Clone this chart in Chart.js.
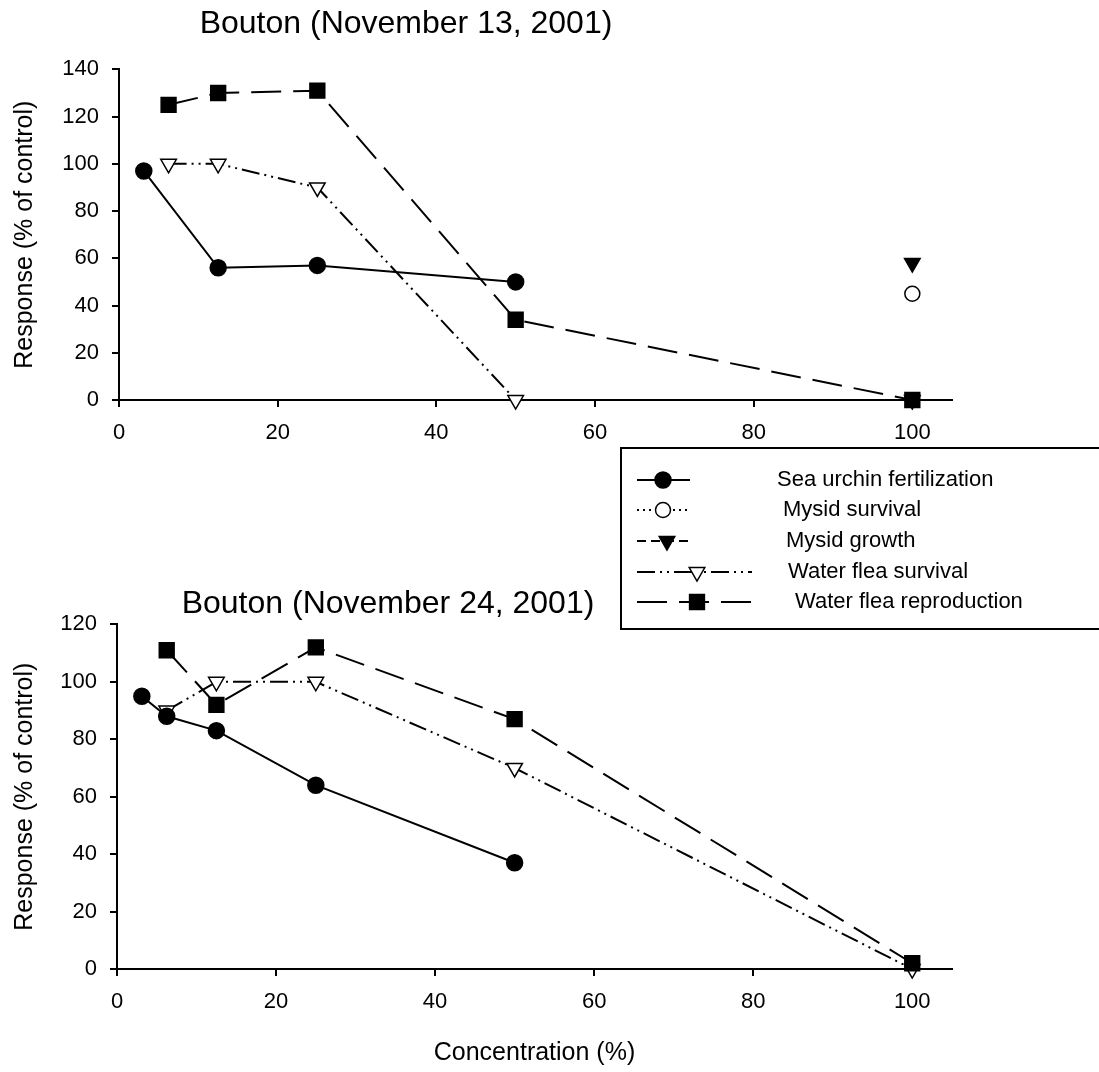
<!DOCTYPE html>
<html>
<head>
<meta charset="utf-8">
<script src="https://cdn.jsdelivr.net/npm/chart.js@4/dist/chart.umd.min.js"></script>
<style>
html,body{margin:0;padding:0;background:#fff;}
#wrap{position:relative;width:1099px;height:1072px;overflow:hidden;background:#fff;}
canvas{position:absolute;left:0;top:0;}
</style>
</head>
<body>
<div id="wrap">
<canvas id="c1" width="1099" height="1072"></canvas>
<canvas id="c2" width="1099" height="1072"></canvas>
</div>
<script>
// ---------------- DATA ----------------
const concentrations = [3.125, 6.25, 12.5, 25, 50, 100];
const seriesNames = ['Sea urchin fertilization', 'Mysid survival', 'Mysid growth', 'Water flea survival', 'Water flea reproduction'];
const titleNov13 = 'Bouton (November 13, 2001)';
const titleNov24 = 'Bouton (November 24, 2001)';
const yAxisTitle = 'Response (% of control)';
const xAxisTitle = 'Concentration (%)';

// November 13, 2001
const nov13SeaUrchin       = [97, null, 56, 57, 50, null];
const nov13MysidSurvival   = [null, null, null, null, null, 45];
const nov13MysidGrowth     = [null, null, null, null, null, 58];
const nov13FleaSurvival    = [null, 100, 100, 90, 0, 0];
const nov13FleaReproduction= [null, 125, 130, 131, 34, 0];

// November 24, 2001
const nov24SeaUrchin       = [95, 88, 83, 64, 37, null];
const nov24FleaSurvival    = [null, 90, 100, 100, 70, 0];
const nov24FleaReproduction= [null, 111, 92, 112, 87, 2];

// tick labels
const xTickValues = [0, 20, 40, 60, 80, 100];
const yTicksNov13 = [0, 20, 40, 60, 80, 100, 120, 140];
const yTicksNov24 = [0, 20, 40, 60, 80, 100, 120];

// ---------------- STYLES ----------------
const FONT = "'Liberation Sans', Arial, Helvetica, sans-serif";
const styles = [
  {pointStyle: 'circle',   fill: '#000', dash: [],                 radius: 8,    rotation: 0,   order: 1},
  {pointStyle: 'circle',   fill: '#fff', dash: [2, 4],             radius: 7.5,  rotation: 0,   order: 2},
  {pointStyle: 'triangle', fill: '#000', dash: [9, 5],             radius: 9,    rotation: 180, order: 3},
  {pointStyle: 'triangle', fill: '#fff', dash: [18, 5, 2, 5, 2, 5],radius: 9,    rotation: 180, order: 4},
  {pointStyle: 'rect',     fill: '#000', dash: [30, 12],           radius: 10.5, rotation: 0,   order: 0}
];

function toPoints(values) {
  return concentrations.map((x, i) => ({x: x, y: values[i]})).filter(p => p.y !== null);
}
function makeDataset(i, values) {
  const s = styles[i];
  return {
    label: seriesNames[i],
    data: toPoints(values),
    showLine: true,
    borderColor: '#000',
    borderWidth: 2,
    borderDash: s.dash,
    pointStyle: s.pointStyle,
    pointRotation: s.rotation,
    pointRadius: s.radius,
    pointHoverRadius: s.radius,
    pointBackgroundColor: s.fill,
    pointBorderColor: '#000',
    pointBorderWidth: 1.5,
    tension: 0,
    fill: false,
    clip: false,
    order: s.order
  };
}

// ---------------- LEGEND PLUGIN ----------------
const legendBox = {left: 621, top: 448, right: 1106, bottom: 629};
const legendRows = [480, 510, 541, 572, 602];
const legendSamples = [
  {x0: 637, x1: 690, m: 663},
  {x0: 637, x1: 690, m: 663},
  {x0: 637, x1: 690, m: 667},
  {x0: 637, x1: 752, m: 697},
  {x0: 637, x1: 752, m: 697}
];
const legendTextX = [777, 783, 786, 788, 795];

function drawMarker(ctx, s, x, y) {
  ctx.save();
  ctx.setLineDash([]);
  ctx.fillStyle = s.fill;
  ctx.strokeStyle = '#000';
  ctx.lineWidth = 1.5;
  ctx.beginPath();
  if (s.pointStyle === 'circle') {
    ctx.arc(x, y, s.radius, 0, Math.PI * 2);
  } else if (s.pointStyle === 'triangle') {
    const r = s.radius;
    const rot = s.rotation * Math.PI / 180;
    for (let k = 0; k < 3; k++) {
      const a = rot + k * 2 * Math.PI / 3;
      const px = x + Math.sin(a) * r, py = y - Math.cos(a) * r;
      if (k === 0) ctx.moveTo(px, py); else ctx.lineTo(px, py);
    }
    ctx.closePath();
  } else {
    const h = s.radius * Math.SQRT1_2;
    ctx.rect(x - h, y - h, 2 * h, 2 * h);
  }
  ctx.fill();
  ctx.stroke();
  ctx.restore();
}

const legendPlugin = {
  id: 'boxLegend',
  afterDraw(chart) {
    const ctx = chart.ctx;
    ctx.save();
    ctx.fillStyle = '#fff';
    ctx.fillRect(legendBox.left, legendBox.top, legendBox.right - legendBox.left, legendBox.bottom - legendBox.top);
    ctx.strokeStyle = '#000';
    ctx.lineWidth = 2;
    ctx.strokeRect(legendBox.left, legendBox.top, legendBox.right - legendBox.left, legendBox.bottom - legendBox.top);
    seriesNames.forEach((name, i) => {
      const s = styles[i];
      const y = legendRows[i];
      const smp = legendSamples[i];
      ctx.save();
      ctx.strokeStyle = '#000';
      ctx.lineWidth = 2;
      ctx.setLineDash(s.dash);
      ctx.beginPath();
      ctx.moveTo(smp.x0, y);
      ctx.lineTo(smp.x1, y);
      ctx.stroke();
      ctx.restore();
      drawMarker(ctx, s, smp.m, y);
      ctx.fillStyle = '#000';
      ctx.font = '22px ' + FONT;
      ctx.textAlign = 'left';
      ctx.textBaseline = 'middle';
      ctx.fillText(name, legendTextX[i], y);
    });
    ctx.restore();
  }
};

// ---------------- CHART FACTORY ----------------
function makeChart(canvasId, cfg) {
  return new Chart(document.getElementById(canvasId), {
    type: 'scatter',
    data: {datasets: cfg.datasets},
    options: {
      responsive: false,
      animation: false,
      devicePixelRatio: 1,
      events: [],
      layout: {padding: cfg.padding},
      plugins: {
        legend: {display: false},
        tooltip: {enabled: false},
        title: {
          display: true,
          text: cfg.title,
          color: '#000',
          font: {family: FONT, size: 32, weight: 'normal'},
          padding: cfg.titlePadding
        }
      },
      scales: {
        x: {
          type: 'linear',
          min: 0,
          max: 105,
          afterBuildTicks: s => { s.ticks = xTickValues.map(v => ({value: v})); },
          afterFit: s => { s.height = cfg.xHeight; },
          border: {display: true, color: '#000', width: 2},
          grid: {display: true, drawOnChartArea: false, drawTicks: true, tickLength: 7, color: '#000', lineWidth: 2},
          ticks: {color: '#000', font: {family: FONT, size: 22}, padding: 13, maxRotation: 0, autoSkip: false},
          title: cfg.showXTitle ? {display: true, text: xAxisTitle, color: '#000', font: {family: FONT, size: 25}, padding: {top: 0, bottom: 4}} : {display: false}
        },
        y: {
          type: 'linear',
          min: 0,
          max: cfg.yMax,
          afterBuildTicks: s => { s.ticks = cfg.yTicks.map(v => ({value: v})); },
          afterFit: s => { s.width = cfg.yWidth; },
          border: {display: true, color: '#000', width: 2},
          grid: {display: true, drawOnChartArea: false, drawTicks: true, tickLength: 7, color: '#000', lineWidth: 2},
          ticks: {color: '#000', font: {family: FONT, size: 22}, padding: 13, autoSkip: false},
          title: {display: true, text: yAxisTitle, color: '#000', font: {family: FONT, size: 25}, padding: {top: cfg.yTitlePad, bottom: 0}}
        }
      }
    },
    plugins: cfg.plugins || []
  });
}

makeChart('c1', {
  title: titleNov13,
  datasets: [
    makeDataset(0, nov13SeaUrchin),
    makeDataset(1, nov13MysidSurvival),
    makeDataset(2, nov13MysidGrowth),
    makeDataset(3, nov13FleaSurvival),
    makeDataset(4, nov13FleaReproduction)
  ],
  padding: {left: -140, right: 147, top: 0, bottom: 622},
  titlePadding: {top: 5, bottom: 26},
  xHeight: 50,
  yWidth: 259,
  yTitlePad: 150,
  yMax: 140,
  yTicks: yTicksNov13,
  showXTitle: false
});

makeChart('c2', {
  title: titleNov24,
  datasets: [
    makeDataset(0, nov24SeaUrchin),
    makeDataset(3, nov24FleaSurvival),
    makeDataset(4, nov24FleaReproduction)
  ],
  padding: {left: -176, right: 147, top: 585, bottom: 0},
  titlePadding: {top: 0, bottom: 1},
  xHeight: 103,
  yWidth: 293,
  yTitlePad: 186,
  yMax: 120,
  yTicks: yTicksNov24,
  showXTitle: true,
  plugins: [legendPlugin]
});
</script>
</body>
</html>
